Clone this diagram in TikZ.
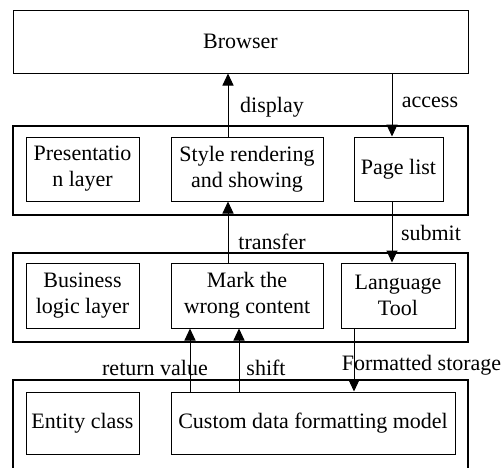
\documentclass[tikz,border=0pt]{standalone}
\usepackage{fontspec}
\setmainfont{Liberation Serif}
\usetikzlibrary{arrows.meta}
\begin{document}
\begin{tikzpicture}[x=1pt,y=-1pt,
  box/.style={draw,line width=1pt,inner sep=0pt,align=center,
    font=\fontsize{22}{26}\selectfont},
  layer/.style={draw,line width=1.2pt,inner sep=0pt},
  lbl/.style={inner sep=0pt,font=\fontsize{22}{26}\selectfont},
  arr/.style={line width=1pt,-{Triangle[length=12pt,width=11pt]}}]
\useasboundingbox (0,0) rectangle (503,467);
\clip (0,0) rectangle (503,467);
% top: browser
\node[box,minimum width=455pt,minimum height=63pt] (browser) at (240.5,41.5) {Browser};
% presentation layer
\node[layer,minimum width=455pt,minimum height=89pt] (L1) at (240.5,170.5) {};
\node[box,minimum width=113pt,minimum height=64pt] (pres) at (82.5,169) {Presentatio\\n layer};
\node[box,minimum width=152pt,minimum height=64pt] (style) at (247,169) {Style rendering\\and showing};
\node[box,minimum width=89pt,minimum height=64pt] (page) at (398.5,169) {Page list};
% business logic layer
\node[layer,minimum width=455pt,minimum height=89pt] (L2) at (240.5,297.5) {};
\node[box,minimum width=113pt,minimum height=65pt] (biz) at (82.5,295.5) {Business\\logic layer};
\node[box,minimum width=152pt,minimum height=65pt] (mark) at (247,295.5) {Mark the\\wrong content};
\node[box,minimum width=114pt,minimum height=65pt] (lang) at (398,295.5) {Language\\Tool};
% data layer
\node[layer,minimum width=455pt,minimum height=100pt] (L3) at (240.5,430) {};
\node[box,minimum width=113pt,minimum height=62pt] (entity) at (82.5,423) {Entity class};
\node[box,minimum width=284pt,minimum height=62pt] (custom) at (313,423) {Custom data formatting model};
% connector x positions
\coordinate (xd) at (228,0);
\coordinate (xa) at (392,0);
\coordinate (xr) at (190,0);
\coordinate (xs) at (239,0);
\coordinate (xf) at (354,0);
% connectors
\draw[arr] (style.north -| xd) -- (browser.south -| xd);
\draw[arr] (browser.south -| xa) -- (page.north -| xa);
\draw[arr] (mark.north -| xd) -- (style.south -| xd);
\draw[arr] (page.south -| xa) -- (lang.north -| xa);
\draw[arr] (custom.north -| xr) -- (mark.south -| xr);
\draw[arr] (custom.north -| xs) -- (mark.south -| xs);
\draw[arr] (lang.south -| xf) -- (custom.north -| xf);
% labels
\node[lbl] (tdisplay) at (272,107) {display};
\node[lbl] (taccess) at (430,102) {access};
\node[lbl] (ttransfer) at (272,242) {transfer};
\node[lbl] (tsubmit) at (431,233) {submit};
\node[lbl] (treturn) at (155,368) {return value};
\node[lbl] (tshift) at (266,368) {shift};
\node[lbl] (tformat) at (421.5,365) {Formatted storage};
\end{tikzpicture}
\end{document}
